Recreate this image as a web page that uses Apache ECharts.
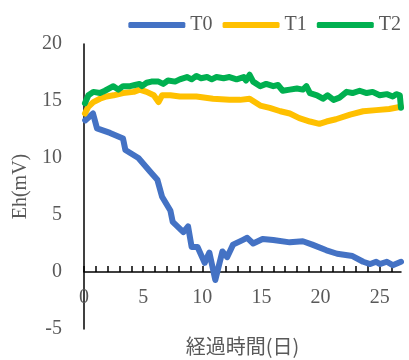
<!DOCTYPE html>
<html>
<head>
<meta charset="utf-8">
<script src="https://cdn.jsdelivr.net/npm/echarts@6/dist/echarts.min.js"></script>
<style>
  html, body { margin: 0; padding: 0; background: #ffffff; }
  #chart { width: 409px; height: 360px; }
</style>
</head>
<body>
<div id="chart"></div>
<script>
// Series names and colours
const seriesNames = ['T0', 'T1', 'T2'];
const seriesColors = ['#4472C4', '#FFC000', '#00B050'];

// Axis tick labels
const xTickLabels = [0, 5, 10, 15, 20, 25];
const yTickLabels = [-5, 0, 5, 10, 15, 20];

// T0: elapsed days and Eh (mV)
const t0Days = [0.1, 0.76, 1.1, 2.2, 3.3, 3.5, 4.6, 5.6, 6.2, 6.6, 7.3, 7.5, 8.4, 8.8, 9.1, 9.6, 10.2, 10.6, 11.1, 11.7, 12.1, 12.6, 13.4, 13.8, 14.3, 15.1, 16.0, 17.4, 18.5, 19.3, 20.5, 21.4, 22.7, 23.6, 24.2, 24.7, 25.0, 25.6, 26.1, 26.8];
const t0Eh   = [13.3, 13.9, 12.6, 12.2, 11.7, 10.7, 10.0, 8.8, 8.1, 6.6, 5.4, 4.4, 3.5, 4.0, 2.2, 2.2, 0.8, 1.7, -0.7, 1.8, 1.3, 2.4, 2.8, 3.0, 2.5, 2.9, 2.8, 2.6, 2.7, 2.4, 1.9, 1.6, 1.4, 0.9, 0.7, 0.9, 0.7, 0.9, 0.6, 0.9];

// T1: elapsed days and Eh (mV)
const t1Days = [0.08, 0.37, 0.79, 1.35, 1.9, 2.5, 3.3, 4.2, 4.7, 5.3, 5.9, 6.3, 6.6, 7.3, 8.1, 9.5, 10.9, 12.3, 13.2, 14.0, 14.9, 15.7, 16.6, 17.4, 18.2, 19.1, 19.9, 20.5, 21.3, 22.5, 23.6, 24.7, 25.8, 26.8];
const t1Eh   = [13.9, 14.5, 14.9, 15.2, 15.4, 15.5, 15.7, 15.8, 16.0, 15.8, 15.5, 14.9, 15.5, 15.5, 15.4, 15.4, 15.2, 15.1, 15.1, 15.2, 14.6, 14.4, 14.1, 13.9, 13.5, 13.2, 13.0, 13.2, 13.4, 13.8, 14.1, 14.2, 14.3, 14.5];

// T2: elapsed days and Eh (mV)
const t2Days = [0.08, 0.37, 0.79, 1.35, 1.77, 2.48, 2.9, 3.3, 3.9, 4.3, 4.7, 4.9, 5.3, 5.7, 6.3, 6.7, 7.1, 7.7, 8.1, 8.7, 9.1, 9.5, 9.9, 10.4, 10.8, 11.2, 11.8, 12.3, 12.9, 13.5, 13.7, 14.0, 14.3, 14.9, 15.4, 16.0, 16.4, 16.8, 17.4, 18.0, 18.5, 18.8, 19.1, 19.7, 20.2, 20.6, 21.1, 21.6, 22.2, 22.7, 23.3, 23.9, 24.4, 25.0, 25.6, 26.1, 26.4, 26.7, 26.8];
const t2Eh   = [14.8, 15.5, 15.8, 15.7, 15.9, 16.3, 16.0, 16.3, 16.3, 16.4, 16.5, 16.3, 16.6, 16.7, 16.7, 16.5, 16.8, 16.7, 16.9, 17.1, 16.9, 17.2, 17.0, 17.1, 16.9, 17.1, 17.0, 17.1, 16.9, 17.1, 16.8, 17.3, 16.7, 16.3, 16.5, 16.3, 16.4, 15.9, 16.0, 16.1, 16.0, 16.3, 15.7, 15.5, 15.2, 15.5, 15.1, 15.3, 15.8, 15.7, 15.9, 15.7, 15.8, 15.5, 15.6, 15.4, 15.6, 15.5, 14.4];

const seriesDays = [t0Days, t1Days, t2Days];
const seriesEh = [t0Eh, t1Eh, t2Eh];

// One minor tick per day along the time axis
const dayTicks = [];
for (let d = 0; d <= 26; d++) dayTicks.push(d);

const textColor = '#595959';
const latinFont = '"Liberation Serif", "Times New Roman", serif';

// Plot box (pixels) and the offset that lifts the time axis onto Eh = 0
const gridTop = 44, gridBottom = 31, chartHeight = 360;
const plotHeight = chartHeight - gridTop - gridBottom;
const yMin = yTickLabels[0], yMax = yTickLabels[yTickLabels.length - 1];
const zeroOffset = -plotHeight * (0 - yMin) / (yMax - yMin);

const chart = echarts.init(document.getElementById('chart'), null, { renderer: 'canvas' });

chart.setOption({
  animation: false,
  backgroundColor: '#ffffff',
  legend: {
    top: 10,
    right: 3,
    icon: 'roundRect',
    itemWidth: 57,
    itemHeight: 6,
    itemGap: 10,
    textStyle: { color: textColor, fontSize: 20, fontFamily: latinFont },
    data: seriesNames
  },
  grid: { left: 84, right: 8, top: gridTop, bottom: gridBottom, containLabel: false, outerBoundsMode: 'none' },
  xAxis: {
    type: 'value',
    position: 'bottom',
    offset: zeroOffset,
    min: 0,
    max: 26.8,
    name: '経過時間(日)',
    nameLocation: 'middle',
    nameGap: 64,
    nameTextStyle: { color: textColor, fontSize: 20, fontFamily: '"Noto Sans CJK JP", ' + latinFont },
    axisLine: { show: true, onZero: false, lineStyle: { color: '#000000', width: 1.5 } },
    axisTick: { show: true, inside: true, length: 6, customValues: dayTicks, lineStyle: { color: '#000000', width: 1.5 } },
    axisLabel: { customValues: xTickLabels, margin: 16, color: textColor, fontSize: 20, fontFamily: latinFont },
    splitLine: { show: false }
  },
  yAxis: {
    type: 'value',
    min: yMin,
    max: yMax,
    interval: 5,
    name: 'Eh(mV)',
    nameLocation: 'middle',
    nameGap: 52,
    nameTextStyle: { color: textColor, fontSize: 20, fontFamily: latinFont },
    axisLine: { show: true, onZero: false, lineStyle: { color: '#000000', width: 1.5 } },
    axisTick: { show: false },
    axisLabel: { margin: 22, color: textColor, fontSize: 20, fontFamily: latinFont },
    splitLine: { show: false }
  },
  series: seriesNames.map((name, i) => ({
    name: name,
    type: 'line',
    symbol: 'none',
    smooth: false,
    color: seriesColors[i],
    lineStyle: { color: seriesColors[i], width: 6, cap: 'round', join: 'round' },
    data: seriesDays[i].map((d, k) => [d, seriesEh[i][k]])
  }))
});
</script>
</body>
</html>
